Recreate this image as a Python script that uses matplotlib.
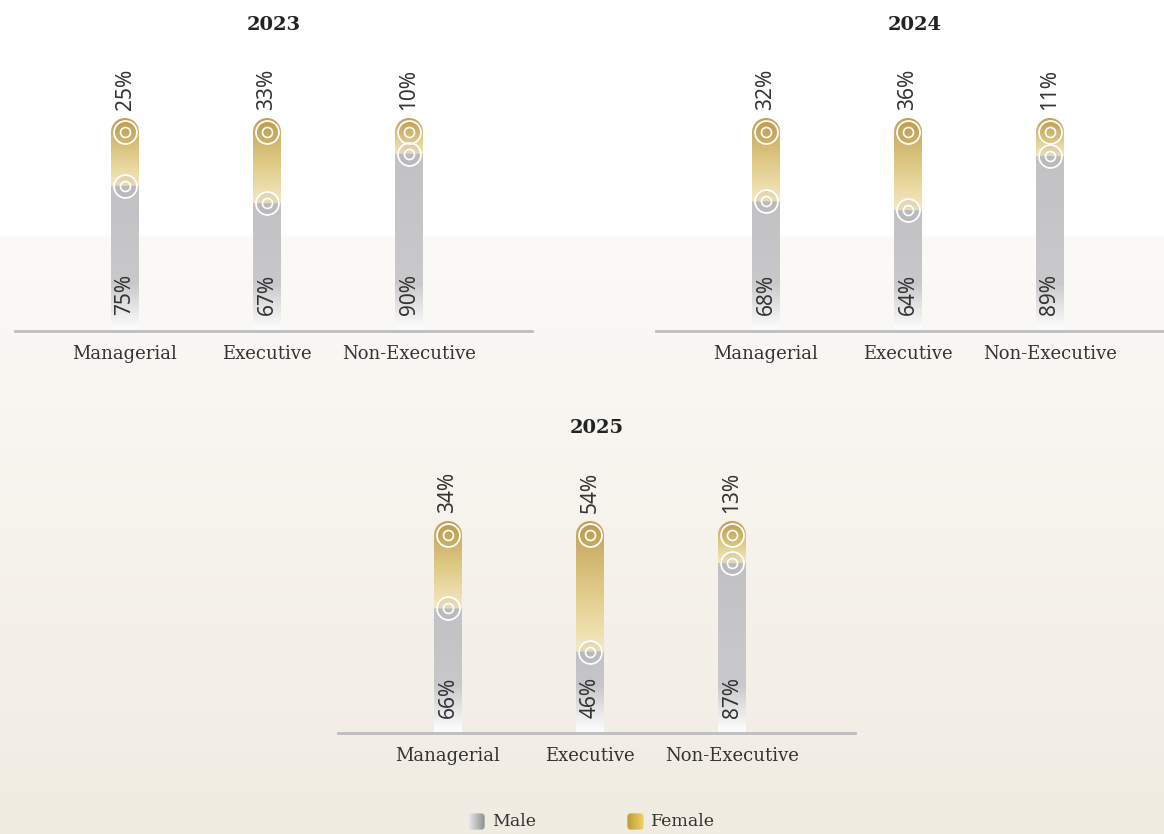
import numpy as np
import matplotlib
matplotlib.use("Agg")
import matplotlib.pyplot as plt
from matplotlib.path import Path
from matplotlib.patches import PathPatch, FancyBboxPatch
from matplotlib.colors import to_rgb

# ---------------- data ----------------
years = ["2023", "2024", "2025"]
categories = ["Managerial", "Executive", "Non-Executive"]
male_2023 = [75, 67, 90]
female_2023 = [25, 33, 10]
male_2024 = [68, 64, 89]
female_2024 = [32, 36, 11]
male_2025 = [66, 46, 87]
female_2025 = [34, 54, 13]
legend_labels = ["Male", "Female"]

male_data = [male_2023, male_2024, male_2025]
female_data = [female_2023, female_2024, female_2025]

# ---------------- layout ----------------
W, H = 1164, 834
fig = plt.figure(figsize=(W / 100, H / 100), dpi=100)

# background gradient
bg = fig.add_axes([0, 0, 1, 1], zorder=-10)
bg.set_axis_off()
ys = np.linspace(0, 1, 400)  # 0 top -> 1 bottom
c_top = np.array(to_rgb("#ffffff"))
c_mid = np.array(to_rgb("#fbfaf7"))
c_bot = np.array(to_rgb("#f1ece2"))
rows = []
for t in ys:
    py = t * H
    if py < 236:
        c = c_top
    else:
        u = (py - 236) / (H - 236)
        c = c_mid * (1 - u) + c_bot * u
    rows.append(c)
bgimg = np.array(rows)[:, None, :].repeat(4, axis=1)
bg.imshow(bgimg, aspect="auto", extent=(0, 1, 0, 1))
bg.set_xlim(0, 1)
bg.set_ylim(0, 1)

PX_PER_X = 142.0
PX_PER_Y = 2.16
AX_W = 517
XMIN = -110 / PX_PER_X
XMAX = XMIN + AX_W / PX_PER_X
BAR_W = 28 / PX_PER_X
TOP_PAD = 72  # px above 100-level kept in axes

# panel positions: (left px, baseline px from top, y of 100-level px)
panels = [(15, 331, 132), (656, 331, 132), (338, 733, 535)]

gold_stops = [(0.0, "#f4e9c2"), (0.45, "#e0cc8a"), (1.0, "#c2a256")]
gray_top = np.array(to_rgb("#c2c2c4"))
gray_low = np.array(to_rgb("#cdcdcf"))
white = np.array(to_rgb("#ffffff"))


def interp_stops(stops, t):
    for (t0, c0), (t1, c1) in zip(stops[:-1], stops[1:]):
        if t <= t1:
            u = (t - t0) / (t1 - t0) if t1 > t0 else 0
            return np.array(to_rgb(c0)) * (1 - u) + np.array(to_rgb(c1)) * u
    return np.array(to_rgb(stops[-1][1]))


for (left, base, y100), yr, males, females in zip(panels, years, male_data, female_data):
    ybottom = 100 - (base - y100) / PX_PER_Y
    top_px = y100 - TOP_PAD
    ax = fig.add_axes([left / W, (H - base) / H, AX_W / W, (base - top_px) / H])
    ax.set_xlim(XMIN, XMAX)
    ax.set_ylim(ybottom, 100 + TOP_PAD / PX_PER_Y)
    ax.patch.set_alpha(0)
    for s in ["top", "left", "right"]:
        ax.spines[s].set_visible(False)
    ax.spines["bottom"].set_color("#bdbdc0")
    ax.spines["bottom"].set_linewidth(2)
    ax.set_yticks([])
    xs = np.arange(len(categories))
    ax.set_xticks(xs)
    ax.set_xticklabels(categories, fontfamily="DejaVu Serif", fontsize=13, color="#333333")
    ax.tick_params(axis="x", length=0, pad=10)

    ry = (BAR_W / 2) * PX_PER_X / PX_PER_Y  # cap radius in y data units

    for x, m, f in zip(xs, males, females):
        top = m + f  # 100
        cap_top = top + ry
        th = np.linspace(np.pi, 0, 40)
        verts = [(x - BAR_W / 2, 0), (x - BAR_W / 2, top)]
        verts += [(x + BAR_W / 2 * np.cos(a), top + ry * np.sin(a)) for a in th]
        verts += [(x + BAR_W / 2, 0), (x - BAR_W / 2, 0)]
        codes = [Path.MOVETO] + [Path.LINETO] * (len(verts) - 2) + [Path.CLOSEPOLY]
        clip = PathPatch(Path(verts, codes), transform=ax.transData, facecolor="none", edgecolor="none")
        ax.add_patch(clip)

        N = 400
        yv = np.linspace(0, cap_top, N)
        img = np.zeros((N, 2, 4))
        for i, yy in enumerate(yv):
            if yy <= m:
                u = yy / m if m > 0 else 0
                c = gray_low * (1 - u) + gray_top * u
                a = np.clip((yy - ybottom) / 22.0, 0.08, 1.0)
                c = c * a + white * (1 - a)
            else:
                t = (yy - m) / (cap_top - m)
                c = interp_stops(gold_stops, t)
            img[i, :, :3] = c
            img[i, :, 3] = 1
        im = ax.imshow(img, extent=(x - BAR_W / 2, x + BAR_W / 2, 0, cap_top), origin="lower",
                       aspect="auto", interpolation="bilinear", zorder=2)
        im.set_clip_path(clip)

        # circles at boundary and top
        for yy, shade in [(m, "#8a8a8a"), (top, "#a08030")]:
            ax.plot([x], [yy], marker="o", markersize=18, markerfacecolor=shade, alpha=0.13,
                    markeredgecolor="none", zorder=3)
            ax.plot([x], [yy], marker="o", markersize=16.5, markerfacecolor="none",
                    markeredgecolor="white", markeredgewidth=1.3, zorder=4)
            ax.plot([x], [yy], marker="o", markersize=7.2, markerfacecolor="none",
                    markeredgecolor="white", markeredgewidth=1.2, zorder=4)

        ax.text(x, cap_top + 3.8, f"{f}%", rotation=90, ha="center", va="bottom",
                fontfamily="Noto Sans", fontsize=15, color="#333333", zorder=5)
        ax.text(x, 15.3, f"{m}%", rotation=90, ha="center", va="bottom",
                fontfamily="Noto Sans", fontsize=15, color="#333333", zorder=5)

    fig.text((left + AX_W / 2) / W, 1 - (y100 - 107) / H, yr, ha="center", va="center",
             fontfamily="DejaVu Serif", fontweight="bold", fontsize=14, color="#222222")

# legend
leg_items = [(468, legend_labels[0], ["#ececee", "#8f8f93"]),
             (627, legend_labels[1], ["#c09a35", "#ecd468"])]
for lx, lab, cols in leg_items:
    lax = fig.add_axes([lx / W, (H - 830) / H, 17 / W, 17 / H])
    lax.set_axis_off()
    lax.set_xlim(0, 1)
    lax.set_ylim(0, 1)
    g = np.linspace(0, 1, 50)
    c0, c1 = np.array(to_rgb(cols[0])), np.array(to_rgb(cols[1]))
    gi = (c0[None, :] * (1 - g[:, None]) + c1[None, :] * g[:, None])[None, :, :].repeat(2, axis=0)
    patch = FancyBboxPatch((0.02, 0.02), 0.96, 0.96, boxstyle="round,pad=0,rounding_size=0.22",
                           transform=lax.transData, facecolor="none", edgecolor="none")
    lax.add_patch(patch)
    li = lax.imshow(gi, extent=(0, 1, 0, 1), aspect="auto")
    li.set_clip_path(patch)
    fig.text((lx + 24) / W, 1 - 822 / H, lab, ha="left", va="center",
             fontfamily="DejaVu Serif", fontsize=12.5, color="#333333")

fig.savefig("out.png", dpi=100)
